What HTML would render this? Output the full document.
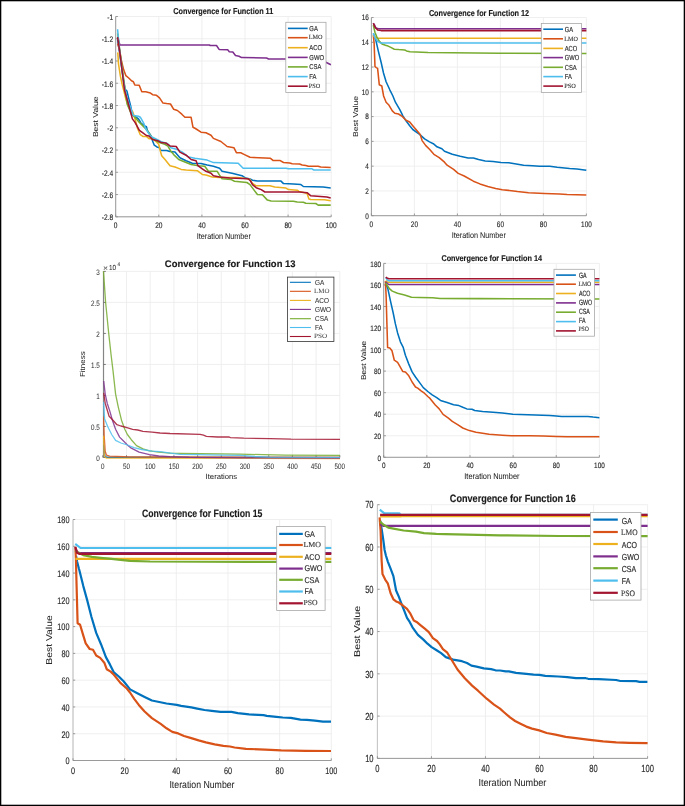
<!DOCTYPE html>
<html><head><meta charset="utf-8"><title>Convergence curves</title>
<style>
html,body{margin:0;padding:0;background:#fff;}
body{width:685px;height:806px;overflow:hidden;}
svg{display:block;filter:blur(0.28px);font-family:"Liberation Sans", sans-serif;text-rendering:geometricPrecision;}
svg text{stroke:#2a2a2a;stroke-width:0.12px;}
svg text.lb{stroke-width:0.05px;}
svg .c3 text{stroke-width:0.02px;}
svg text.tt{stroke:#1a1a1a;stroke-width:0.15px;}
</style></head><body>
<svg width="685" height="806" viewBox="0 0 685 806">
<rect x="0" y="0" width="685" height="806" fill="#fff"/>
<g class="c1"><path d="M115.70 16.50V216.80M158.80 16.50V216.80M201.90 16.50V216.80M245.00 16.50V216.80M288.10 16.50V216.80M331.20 16.50V216.80M115.70 16.50H331.20M115.70 38.76H331.20M115.70 61.01H331.20M115.70 83.27H331.20M115.70 105.52H331.20M115.70 127.78H331.20M115.70 150.03H331.20M115.70 172.29H331.20M115.70 194.54H331.20M115.70 216.80H331.20" stroke="#ebebeb" stroke-width="0.8" fill="none"/>
<path d="M115.70 16.50V216.80" stroke="#909090" stroke-width="0.9" fill="none"/>
<path d="M115.70 216.80H331.20 M115.70 216.80V214.60M158.80 216.80V214.60M201.90 216.80V214.60M245.00 216.80V214.60M288.10 216.80V214.60M331.20 216.80V214.60M115.70 16.50H117.90M115.70 38.76H117.90M115.70 61.01H117.90M115.70 83.27H117.90M115.70 105.52H117.90M115.70 127.78H117.90M115.70 150.03H117.90M115.70 172.29H117.90M115.70 194.54H117.90M115.70 216.80H117.90" stroke="#909090" stroke-width="0.9" fill="none"/>
<path d="M117.6 40.0 L119.5 52.0 L121.5 66.0 L123.5 80.0 L125.0 89.1 L126.9 91.0 L128.7 98.4 L130.6 105.8 L132.4 114.5 L135.0 116.3 L138.5 118.9 L141.2 123.3 L144.7 125.9 L146.4 126.8 L147.3 130.3 L149.0 132.9 L150.8 135.5 L152.5 140.8 L154.3 145.2 L156.9 146.9 L159.5 147.8 L160.9 150.4 L166.6 150.4 L170.0 151.5 L175.0 152.1 L179.9 157.7 L186.1 160.8 L192.3 163.2 L201.0 163.5 L207.2 165.1 L213.4 166.3 L219.6 168.2 L222.1 171.3 L232.0 173.2 L237.0 174.4 L242.0 175.7 L245.7 178.1 L250.0 179.0 L252.5 180.3 L257.4 180.9 L281.0 181.1 L283.5 183.6 L293.4 184.0 L300.9 184.6 L303.4 186.5 L323.2 187.1 L330.7 188.1" stroke="#0072BD" stroke-width="1.55" fill="none" stroke-linejoin="round" stroke-linecap="butt"/>
<path d="M117.6 43.6 L119.4 49.2 L121.3 60.3 L123.6 69.6 L125.9 75.7 L128.7 78.0 L131.5 80.8 L133.4 81.7 L134.8 85.0 L139.2 85.3 L141.8 91.8 L145.7 91.8 L150.5 93.1 L152.6 94.7 L156.5 95.3 L159.5 97.9 L163.0 103.1 L166.6 103.6 L170.5 104.0 L173.7 109.3 L177.4 110.5 L181.8 114.2 L184.9 117.3 L191.1 117.3 L193.0 127.3 L195.4 128.5 L201.0 132.2 L206.0 132.8 L211.0 135.3 L213.4 138.4 L220.9 141.5 L227.1 146.5 L233.9 147.7 L236.4 152.7 L240.7 152.7 L244.5 154.6 L250.0 157.3 L270.5 158.3 L273.0 160.4 L279.8 160.4 L283.5 162.5 L289.7 162.9 L292.2 163.8 L299.6 164.1 L302.1 165.0 L305.8 165.4 L308.3 166.2 L318.2 166.2 L320.7 167.0 L330.7 167.6" stroke="#D95319" stroke-width="1.55" fill="none" stroke-linejoin="round" stroke-linecap="butt"/>
<path d="M117.8 52.4 L118.5 64.0 L120.4 76.1 L122.2 84.5 L124.1 91.9 L125.9 99.3 L128.9 107.5 L132.8 111.9 L135.0 118.9 L137.6 128.5 L140.3 134.7 L142.9 136.4 L146.4 136.4 L149.0 138.6 L152.5 138.6 L155.2 140.8 L158.7 144.3 L160.4 151.3 L161.7 155.7 L164.8 159.2 L170.0 165.7 L175.0 167.0 L181.2 169.4 L186.1 170.1 L197.3 170.7 L202.3 174.4 L206.0 175.0 L212.2 176.9 L219.6 177.5 L237.0 177.5 L245.7 178.4 L250.0 179.6 L252.5 183.4 L256.2 185.8 L269.9 185.8 L274.8 187.1 L286.0 188.1 L288.5 189.6 L297.2 190.2 L299.0 191.4 L304.6 192.7 L307.1 193.5 L308.9 198.9 L310.8 199.5 L324.5 199.7 L330.7 200.7" stroke="#EDB120" stroke-width="1.55" fill="none" stroke-linejoin="round" stroke-linecap="butt"/>
<path d="M117.6 37.1 L119.9 44.9 L209.3 45.0 L210.3 45.5 L216.5 45.5 L219.1 49.4 L227.7 49.8 L229.3 51.7 L232.8 52.1 L235.5 55.5 L239.0 56.2 L241.6 57.6 L266.5 58.0 L268.6 59.0 L286.0 59.0 L320.0 60.0 L325.8 62.3 L330.9 64.7" stroke="#7E2F8E" stroke-width="1.55" fill="none" stroke-linejoin="round" stroke-linecap="butt"/>
<path d="M117.6 33.4 L119.5 48.0 L121.5 63.0 L123.5 78.0 L125.5 92.0 L127.1 104.0 L131.5 114.5 L135.0 117.2 L139.4 122.4 L142.9 125.9 L147.3 130.3 L151.7 137.3 L156.0 140.8 L159.5 142.6 L164.8 144.3 L167.9 146.1 L170.9 151.3 L173.7 154.6 L178.7 159.5 L184.9 162.0 L191.1 164.5 L198.5 165.7 L204.7 166.3 L208.5 171.3 L217.2 171.3 L220.3 176.3 L222.1 178.8 L230.8 179.4 L234.5 181.2 L246.9 182.5 L250.0 184.6 L253.7 189.6 L257.4 194.5 L262.4 194.8 L267.4 200.1 L271.1 201.0 L293.4 201.3 L297.2 202.0 L303.4 202.2 L305.8 203.2 L315.8 203.5 L318.2 205.1 L330.7 205.1" stroke="#77AC30" stroke-width="1.55" fill="none" stroke-linejoin="round" stroke-linecap="butt"/>
<path d="M117.6 29.2 L118.0 34.3 L119.0 45.0 L121.0 62.0 L123.0 78.0 L125.0 90.0 L127.5 100.0 L130.6 107.5 L133.3 115.4 L138.5 116.3 L140.3 117.2 L143.8 123.3 L145.5 128.5 L147.3 131.2 L150.8 136.4 L156.0 139.0 L161.3 141.7 L167.4 143.4 L170.9 147.8 L177.4 149.6 L182.4 152.1 L188.6 157.0 L194.8 158.3 L207.2 160.1 L213.4 162.6 L238.2 163.2 L243.2 168.2 L286.0 168.2 L288.5 168.8 L312.0 168.8 L313.9 170.0 L330.7 170.0" stroke="#4DBEEE" stroke-width="1.55" fill="none" stroke-linejoin="round" stroke-linecap="butt"/>
<path d="M117.6 37.1 L119.9 52.9 L122.2 71.5 L124.5 90.0 L128.9 105.8 L132.4 118.9 L135.0 122.4 L139.4 130.3 L142.9 132.9 L146.4 135.5 L149.0 136.0 L152.5 139.5 L157.8 140.8 L161.3 142.6 L165.7 143.0 L170.0 145.9 L176.2 146.5 L179.9 152.1 L186.1 155.2 L191.1 159.5 L196.1 160.8 L197.9 165.7 L202.3 168.8 L206.0 171.3 L211.0 173.2 L213.4 175.7 L219.6 176.9 L229.6 178.1 L248.2 178.8 L250.5 181.0 L252.5 184.6 L256.2 187.7 L261.2 189.6 L264.9 192.0 L299.6 192.0 L307.1 192.7 L310.8 195.8 L326.9 197.0 L330.7 198.0" stroke="#A2142F" stroke-width="1.55" fill="none" stroke-linejoin="round" stroke-linecap="butt"/>
<text transform="translate(115.70 228.16) scale(1 1.220)" text-anchor="middle" font-size="6.6" fill="#2a2a2a">0</text>
<text transform="translate(158.80 228.16) scale(1 1.220)" text-anchor="middle" font-size="6.6" fill="#2a2a2a">20</text>
<text transform="translate(201.90 228.16) scale(1 1.220)" text-anchor="middle" font-size="6.6" fill="#2a2a2a">40</text>
<text transform="translate(245.00 228.16) scale(1 1.220)" text-anchor="middle" font-size="6.6" fill="#2a2a2a">60</text>
<text transform="translate(288.10 228.16) scale(1 1.220)" text-anchor="middle" font-size="6.6" fill="#2a2a2a">80</text>
<text transform="translate(331.20 228.16) scale(1 1.220)" text-anchor="middle" font-size="6.6" fill="#2a2a2a">100</text>
<text transform="translate(113.20 19.86) scale(1 1.220)" text-anchor="end" font-size="6.6" fill="#2a2a2a">-1</text>
<text transform="translate(113.20 42.11) scale(1 1.220)" text-anchor="end" font-size="6.6" fill="#2a2a2a">-1.2</text>
<text transform="translate(113.20 64.37) scale(1 1.220)" text-anchor="end" font-size="6.6" fill="#2a2a2a">-1.4</text>
<text transform="translate(113.20 86.63) scale(1 1.220)" text-anchor="end" font-size="6.6" fill="#2a2a2a">-1.6</text>
<text transform="translate(113.20 108.88) scale(1 1.220)" text-anchor="end" font-size="6.6" fill="#2a2a2a">-1.8</text>
<text transform="translate(113.20 131.14) scale(1 1.220)" text-anchor="end" font-size="6.6" fill="#2a2a2a">-2</text>
<text transform="translate(113.20 153.39) scale(1 1.220)" text-anchor="end" font-size="6.6" fill="#2a2a2a">-2.2</text>
<text transform="translate(113.20 175.65) scale(1 1.220)" text-anchor="end" font-size="6.6" fill="#2a2a2a">-2.4</text>
<text transform="translate(113.20 197.90) scale(1 1.220)" text-anchor="end" font-size="6.6" fill="#2a2a2a">-2.6</text>
<text transform="translate(113.20 220.16) scale(1 1.220)" text-anchor="end" font-size="6.6" fill="#2a2a2a">-2.8</text>
<text class="tt" x="223.30" y="14.30" text-anchor="middle" font-size="8.6" font-weight="bold" fill="#1a1a1a" textLength="100" lengthAdjust="spacingAndGlyphs">Convergence for Function 11</text>
<text class="lb" x="223.80" y="239.40" text-anchor="middle" font-size="8.3" fill="#262626" textLength="54" lengthAdjust="spacingAndGlyphs">Iteration Number</text>
<text class="lb" transform="translate(98.40 116.80) rotate(-90)" text-anchor="middle" font-size="7.2" fill="#262626" textLength="40.6" lengthAdjust="spacingAndGlyphs">Best Value</text>
<rect x="285.80" y="22.30" width="40.20" height="70.10" fill="#fff" stroke="#a8a8a8" stroke-width="0.8"/>
<path d="M287.90 28.40H307.70" stroke="#0072BD" stroke-width="1.6"/>
<text transform="translate(309.30 31.01) scale(1 1.200)" font-size="5.9" fill="#262626">GA</text>
<path d="M287.90 37.70H307.70" stroke="#D95319" stroke-width="1.6"/>
<text x="308.80" y="39.45" font-size="6.5" fill="#3a3a3a" font-family='"Liberation Serif", serif' textLength="13.80" lengthAdjust="spacingAndGlyphs">LMO</text>
<path d="M287.90 47.70H307.70" stroke="#EDB120" stroke-width="1.6"/>
<text transform="translate(309.30 50.11) scale(1 1.200)" font-size="5.9" fill="#262626">ACO</text>
<path d="M287.90 57.40H307.70" stroke="#7E2F8E" stroke-width="1.6"/>
<text transform="translate(309.30 59.71) scale(1 1.200)" font-size="5.9" fill="#262626">GWO</text>
<path d="M287.90 66.90H307.70" stroke="#77AC30" stroke-width="1.6"/>
<text transform="translate(309.30 69.31) scale(1 1.200)" font-size="5.9" fill="#262626">CSA</text>
<path d="M287.90 76.60H307.70" stroke="#4DBEEE" stroke-width="1.6"/>
<text transform="translate(309.30 78.91) scale(1 1.200)" font-size="5.9" fill="#262626">FA</text>
<path d="M287.90 86.20H307.70" stroke="#A2142F" stroke-width="1.6"/>
<text x="308.80" y="88.44" font-size="6.5" fill="#3a3a3a" font-family='"Liberation Serif", serif' textLength="11.40" lengthAdjust="spacingAndGlyphs">PSO</text></g>
<g class="c2"><path d="M371.40 17.50V215.70M414.40 17.50V215.70M457.40 17.50V215.70M500.40 17.50V215.70M543.40 17.50V215.70M586.40 17.50V215.70M371.40 215.70H586.40M371.40 190.92H586.40M371.40 166.15H586.40M371.40 141.38H586.40M371.40 116.60H586.40M371.40 91.82H586.40M371.40 67.05H586.40M371.40 42.28H586.40M371.40 17.50H586.40" stroke="#ebebeb" stroke-width="0.8" fill="none"/>
<path d="M371.40 17.50V215.70" stroke="#909090" stroke-width="0.9" fill="none"/>
<path d="M371.40 215.70H586.40 M371.40 215.70V213.50M414.40 215.70V213.50M457.40 215.70V213.50M500.40 215.70V213.50M543.40 215.70V213.50M586.40 215.70V213.50M371.40 215.70H373.60M371.40 190.92H373.60M371.40 166.15H373.60M371.40 141.38H373.60M371.40 116.60H373.60M371.40 91.82H373.60M371.40 67.05H373.60M371.40 42.28H373.60M371.40 17.50H373.60" stroke="#909090" stroke-width="0.9" fill="none"/>
<path d="M373.3 33.4 L375.9 40.4 L378.5 51.8 L381.1 62.3 L383.5 73.0 L386.1 81.7 L389.8 89.8 L392.9 96.0 L395.4 102.2 L399.8 109.6 L402.9 115.8 L406.0 120.8 L409.7 125.7 L412.8 129.5 L419.6 134.4 L424.6 138.8 L429.5 141.9 L433.3 143.7 L437.0 146.8 L441.9 148.7 L444.5 151.3 L452.3 154.3 L460.2 156.3 L468.1 157.9 L473.4 158.0 L478.6 159.6 L485.2 160.9 L493.1 161.5 L501.0 162.5 L508.8 162.8 L516.2 163.9 L523.6 165.2 L532.3 165.7 L539.8 166.2 L549.7 166.3 L557.2 167.3 L564.6 167.9 L569.6 168.5 L577.0 168.9 L586.3 170.2" stroke="#0072BD" stroke-width="1.55" fill="none" stroke-linejoin="round" stroke-linecap="butt"/>
<path d="M373.3 35.1 L374.1 43.0 L375.0 66.7 L376.3 67.6 L377.6 68.4 L379.3 84.8 L381.8 86.0 L383.6 96.0 L386.1 102.2 L388.6 104.7 L392.3 110.9 L394.8 113.3 L398.5 114.0 L402.2 116.4 L406.0 120.2 L409.7 122.0 L413.4 126.4 L417.1 130.7 L420.2 134.4 L422.1 140.6 L425.8 145.6 L429.5 149.3 L433.9 154.3 L439.2 157.6 L444.5 162.2 L447.1 165.2 L453.6 169.4 L458.2 173.4 L464.2 176.0 L473.4 181.2 L479.9 183.9 L487.8 186.5 L495.7 188.5 L502.3 189.8 L511.5 190.7 L517.4 191.5 L528.6 192.7 L544.7 193.4 L559.6 194.0 L567.1 194.6 L586.3 195.0" stroke="#D95319" stroke-width="1.55" fill="none" stroke-linejoin="round" stroke-linecap="butt"/>
<path d="M373.3 36.0 L376.8 38.2 L586.4 38.2" stroke="#EDB120" stroke-width="1.55" fill="none" stroke-linejoin="round" stroke-linecap="butt"/>
<path d="M373.3 23.3 L374.6 25.1 L375.9 28.1 L378.5 28.8 L586.4 28.8" stroke="#7E2F8E" stroke-width="1.55" fill="none" stroke-linejoin="round" stroke-linecap="butt"/>
<path d="M373.3 25.1 L375.0 32.5 L376.8 36.9 L379.4 41.3 L382.0 43.9 L385.5 45.2 L388.1 46.1 L390.8 47.4 L394.3 49.2 L398.7 49.6 L404.8 50.0 L406.5 50.9 L410.0 51.8 L416.2 52.0 L428.0 52.5 L500.0 53.2 L586.4 53.5" stroke="#77AC30" stroke-width="1.55" fill="none" stroke-linejoin="round" stroke-linecap="butt"/>
<path d="M373.3 33.4 L375.0 37.8 L377.6 41.3 L380.3 42.9 L586.4 42.9" stroke="#4DBEEE" stroke-width="1.55" fill="none" stroke-linejoin="round" stroke-linecap="butt"/>
<path d="M373.3 23.3 L375.0 27.3 L377.6 29.9 L381.1 30.6 L586.4 30.6" stroke="#A2142F" stroke-width="1.55" fill="none" stroke-linejoin="round" stroke-linecap="butt"/>
<text transform="translate(371.40 227.14) scale(1 1.250)" text-anchor="middle" font-size="6.4" fill="#2a2a2a">0</text>
<text transform="translate(414.40 227.14) scale(1 1.250)" text-anchor="middle" font-size="6.4" fill="#2a2a2a">20</text>
<text transform="translate(457.40 227.14) scale(1 1.250)" text-anchor="middle" font-size="6.4" fill="#2a2a2a">40</text>
<text transform="translate(500.40 227.14) scale(1 1.250)" text-anchor="middle" font-size="6.4" fill="#2a2a2a">60</text>
<text transform="translate(543.40 227.14) scale(1 1.250)" text-anchor="middle" font-size="6.4" fill="#2a2a2a">80</text>
<text transform="translate(586.40 227.14) scale(1 1.250)" text-anchor="middle" font-size="6.4" fill="#2a2a2a">100</text>
<text transform="translate(368.80 218.54) scale(1 1.250)" text-anchor="end" font-size="6.4" fill="#2a2a2a">0</text>
<text transform="translate(368.80 193.76) scale(1 1.250)" text-anchor="end" font-size="6.4" fill="#2a2a2a">2</text>
<text transform="translate(368.80 168.99) scale(1 1.250)" text-anchor="end" font-size="6.4" fill="#2a2a2a">4</text>
<text transform="translate(368.80 144.22) scale(1 1.250)" text-anchor="end" font-size="6.4" fill="#2a2a2a">6</text>
<text transform="translate(368.80 119.44) scale(1 1.250)" text-anchor="end" font-size="6.4" fill="#2a2a2a">8</text>
<text transform="translate(368.80 94.66) scale(1 1.250)" text-anchor="end" font-size="6.4" fill="#2a2a2a">10</text>
<text transform="translate(368.80 69.89) scale(1 1.250)" text-anchor="end" font-size="6.4" fill="#2a2a2a">12</text>
<text transform="translate(368.80 45.12) scale(1 1.250)" text-anchor="end" font-size="6.4" fill="#2a2a2a">14</text>
<text transform="translate(368.80 20.34) scale(1 1.250)" text-anchor="end" font-size="6.4" fill="#2a2a2a">16</text>
<text class="tt" x="479.00" y="15.60" text-anchor="middle" font-size="8.6" font-weight="bold" fill="#1a1a1a" textLength="100.2" lengthAdjust="spacingAndGlyphs">Convergence for Function 12</text>
<text class="lb" x="478.80" y="237.50" text-anchor="middle" font-size="8.3" fill="#262626" textLength="54" lengthAdjust="spacingAndGlyphs">Iteration Number</text>
<text class="lb" transform="translate(358.00 116.50) rotate(-90)" text-anchor="middle" font-size="7.2" fill="#262626" textLength="41.2" lengthAdjust="spacingAndGlyphs">Best Value</text>
<rect x="541.30" y="23.40" width="40.20" height="69.00" fill="#fff" stroke="#a8a8a8" stroke-width="0.8"/>
<path d="M543.30 29.20H563.00" stroke="#0072BD" stroke-width="1.6"/>
<text transform="translate(564.70 32.37) scale(1 1.250)" font-size="5.8" fill="#262626">GA</text>
<path d="M543.30 38.80H563.00" stroke="#D95319" stroke-width="1.6"/>
<text x="564.30" y="41.15" font-size="6.5" fill="#3a3a3a" font-family='"Liberation Serif", serif' textLength="13.60" lengthAdjust="spacingAndGlyphs">LMO</text>
<path d="M543.30 48.40H563.00" stroke="#EDB120" stroke-width="1.6"/>
<text transform="translate(564.70 51.17) scale(1 1.250)" font-size="5.8" fill="#262626">ACO</text>
<path d="M543.30 57.60H563.00" stroke="#7E2F8E" stroke-width="1.6"/>
<text transform="translate(564.70 60.37) scale(1 1.250)" font-size="5.8" fill="#262626">GWO</text>
<path d="M543.30 67.30H563.00" stroke="#77AC30" stroke-width="1.6"/>
<text transform="translate(564.70 69.57) scale(1 1.250)" font-size="5.8" fill="#262626">CSA</text>
<path d="M543.30 76.60H563.00" stroke="#4DBEEE" stroke-width="1.6"/>
<text transform="translate(564.70 78.77) scale(1 1.250)" font-size="5.8" fill="#262626">FA</text>
<path d="M543.30 86.10H563.00" stroke="#A2142F" stroke-width="1.6"/>
<text x="564.30" y="87.75" font-size="6.5" fill="#3a3a3a" font-family='"Liberation Serif", serif' textLength="11.60" lengthAdjust="spacingAndGlyphs">PSO</text></g>
<g class="c3"><path d="M102.80 271.40V457.50M126.50 271.40V457.50M150.20 271.40V457.50M173.90 271.40V457.50M197.60 271.40V457.50M221.30 271.40V457.50M245.00 271.40V457.50M268.70 271.40V457.50M292.40 271.40V457.50M316.10 271.40V457.50M339.80 271.40V457.50M102.80 457.50H339.80M102.80 426.48H339.80M102.80 395.47H339.80M102.80 364.45H339.80M102.80 333.43H339.80M102.80 302.42H339.80M102.80 271.40H339.80" stroke="#ebebeb" stroke-width="0.8" fill="none"/>
<path d="M103.60 271.40V457.50" stroke="#6a6a6a" stroke-width="0.9" fill="none"/>
<path d="M103.60 457.50H339.80 M102.80 457.50V455.30M126.50 457.50V455.30M150.20 457.50V455.30M173.90 457.50V455.30M197.60 457.50V455.30M221.30 457.50V455.30M245.00 457.50V455.30M268.70 457.50V455.30M292.40 457.50V455.30M316.10 457.50V455.30M339.80 457.50V455.30M103.60 457.50H105.80M103.60 426.48H105.80M103.60 395.47H105.80M103.60 364.45H105.80M103.60 333.43H105.80M103.60 302.42H105.80M103.60 271.40H105.80" stroke="#6a6a6a" stroke-width="0.9" fill="none"/>
<path d="M103.6 445.0 L105.0 456.0 L107.0 457.2 L340.0 457.6" stroke="#0072BD" stroke-width="1.3" fill="none" stroke-linejoin="round" stroke-linecap="butt" stroke-opacity="0.85"/>
<path d="M103.6 416.5 L104.2 435.8 L105.2 451.3 L106.5 455.2 L109.7 456.1 L130.0 456.9 L160.0 457.0 L340.0 457.2" stroke="#D95319" stroke-width="1.3" fill="none" stroke-linejoin="round" stroke-linecap="butt" stroke-opacity="0.85"/>
<path d="M103.6 435.8 L103.9 448.7 L104.5 456.5 L106.5 458.2 L340.0 458.5" stroke="#EDB120" stroke-width="1.3" fill="none" stroke-linejoin="round" stroke-linecap="butt" stroke-opacity="0.85"/>
<path d="M103.7 381.1 L105.2 394.1 L107.2 403.2 L109.8 411.1 L112.4 420.2 L115.6 429.3 L119.6 437.1 L123.5 441.0 L127.4 444.9 L131.3 448.2 L139.1 452.1 L149.5 454.7 L158.7 456.0 L170.0 456.7 L189.2 457.4 L240.0 457.9 L340.0 458.0" stroke="#7E2F8E" stroke-width="1.3" fill="none" stroke-linejoin="round" stroke-linecap="butt" stroke-opacity="0.85"/>
<path d="M103.5 271.2 L105.6 302.2 L108.7 333.2 L111.1 355.0 L113.0 370.6 L115.6 394.1 L118.3 407.1 L121.5 420.2 L124.8 429.3 L127.4 434.5 L131.3 439.7 L136.5 445.6 L143.0 448.9 L149.5 450.8 L158.7 452.1 L170.0 453.1 L180.0 453.4 L240.0 454.2 L285.0 455.1 L340.0 455.3" stroke="#77AC30" stroke-width="1.3" fill="none" stroke-linejoin="round" stroke-linecap="butt" stroke-opacity="0.85"/>
<path d="M103.7 401.9 L104.6 418.9 L107.8 426.7 L111.7 434.5 L115.6 440.4 L120.9 443.0 L127.4 445.0 L133.9 447.6 L141.7 449.5 L152.1 451.1 L160.0 451.6 L168.8 452.8 L180.0 454.4 L196.5 454.7 L221.3 455.2 L240.0 455.4 L255.0 456.5 L270.0 457.2 L340.0 457.3" stroke="#4DBEEE" stroke-width="1.3" fill="none" stroke-linejoin="round" stroke-linecap="butt" stroke-opacity="0.85"/>
<path d="M103.7 392.8 L105.2 403.2 L109.1 416.3 L113.0 420.2 L116.9 424.7 L120.9 426.0 L126.1 427.4 L132.6 429.3 L137.8 430.0 L143.0 431.3 L152.1 432.2 L160.0 433.0 L170.0 433.5 L200.0 434.3 L203.5 435.2 L206.4 436.4 L217.5 437.0 L229.2 437.0 L230.4 437.6 L243.8 438.2 L270.1 438.6 L291.1 439.2 L340.0 439.4" stroke="#A2142F" stroke-width="1.3" fill="none" stroke-linejoin="round" stroke-linecap="butt" stroke-opacity="0.85"/>
<text transform="translate(102.80 469.00) scale(1 1.250)" text-anchor="middle" font-size="6.3" fill="#2a2a2a">0</text>
<text transform="translate(126.50 469.00) scale(1 1.250)" text-anchor="middle" font-size="6.3" fill="#2a2a2a">50</text>
<text transform="translate(150.20 469.00) scale(1 1.250)" text-anchor="middle" font-size="6.3" fill="#2a2a2a">100</text>
<text transform="translate(173.90 469.00) scale(1 1.250)" text-anchor="middle" font-size="6.3" fill="#2a2a2a">150</text>
<text transform="translate(197.60 469.00) scale(1 1.250)" text-anchor="middle" font-size="6.3" fill="#2a2a2a">200</text>
<text transform="translate(221.30 469.00) scale(1 1.250)" text-anchor="middle" font-size="6.3" fill="#2a2a2a">250</text>
<text transform="translate(245.00 469.00) scale(1 1.250)" text-anchor="middle" font-size="6.3" fill="#2a2a2a">300</text>
<text transform="translate(268.70 469.00) scale(1 1.250)" text-anchor="middle" font-size="6.3" fill="#2a2a2a">350</text>
<text transform="translate(292.40 469.00) scale(1 1.250)" text-anchor="middle" font-size="6.3" fill="#2a2a2a">400</text>
<text transform="translate(316.10 469.00) scale(1 1.250)" text-anchor="middle" font-size="6.3" fill="#2a2a2a">450</text>
<text transform="translate(339.80 469.00) scale(1 1.250)" text-anchor="middle" font-size="6.3" fill="#2a2a2a">500</text>
<text transform="translate(99.80 461.10) scale(1 1.250)" text-anchor="end" font-size="6.3" fill="#2a2a2a">0</text>
<text transform="translate(99.80 430.08) scale(1 1.250)" text-anchor="end" font-size="6.3" fill="#2a2a2a">0.5</text>
<text transform="translate(99.80 399.06) scale(1 1.250)" text-anchor="end" font-size="6.3" fill="#2a2a2a">1</text>
<text transform="translate(99.80 368.05) scale(1 1.250)" text-anchor="end" font-size="6.3" fill="#2a2a2a">1.5</text>
<text transform="translate(99.80 337.03) scale(1 1.250)" text-anchor="end" font-size="6.3" fill="#2a2a2a">2</text>
<text transform="translate(99.80 306.01) scale(1 1.250)" text-anchor="end" font-size="6.3" fill="#2a2a2a">2.5</text>
<text transform="translate(99.80 275.00) scale(1 1.250)" text-anchor="end" font-size="6.3" fill="#2a2a2a">3</text>
<text class="tt" x="230.20" y="267.00" text-anchor="middle" font-size="9.6" font-weight="bold" fill="#1a1a1a" textLength="130.7" lengthAdjust="spacingAndGlyphs">Convergence for Function 13</text>
<text class="lb" x="221.40" y="479.30" text-anchor="middle" font-size="7.6" fill="#262626" textLength="31.6" lengthAdjust="spacingAndGlyphs">Iterations</text>
<text class="lb" transform="translate(85.30 364.20) rotate(-90)" text-anchor="middle" font-size="7.2" fill="#262626" textLength="25.8" lengthAdjust="spacingAndGlyphs">Fitness</text>
<rect x="287.50" y="277.10" width="46.40" height="64.40" fill="#fff" stroke="#333333" stroke-width="0.8"/>
<path d="M289.90 282.30H310.90" stroke="#0072BD" stroke-width="1.1"/>
<text transform="translate(315.00 285.16) scale(1 1.120)" font-size="6.45" fill="#262626">GA</text>
<path d="M289.90 291.30H310.90" stroke="#D95319" stroke-width="1.1"/>
<text x="314.00" y="293.08" font-size="6.6" fill="#3a3a3a" font-family='"Liberation Serif", serif' textLength="15.40" lengthAdjust="spacingAndGlyphs">LMO</text>
<path d="M289.90 300.40H310.90" stroke="#EDB120" stroke-width="1.1"/>
<text transform="translate(315.00 303.06) scale(1 1.120)" font-size="6.45" fill="#262626">ACO</text>
<path d="M289.90 309.40H310.90" stroke="#7E2F8E" stroke-width="1.1"/>
<text transform="translate(315.00 311.96) scale(1 1.120)" font-size="6.45" fill="#262626">GWO</text>
<path d="M289.90 318.70H310.90" stroke="#77AC30" stroke-width="1.1"/>
<text transform="translate(315.00 321.16) scale(1 1.120)" font-size="6.45" fill="#262626">CSA</text>
<path d="M289.90 327.50H310.90" stroke="#4DBEEE" stroke-width="1.1"/>
<text transform="translate(315.00 330.06) scale(1 1.120)" font-size="6.45" fill="#262626">FA</text>
<path d="M289.90 336.50H310.90" stroke="#A2142F" stroke-width="1.1"/>
<text x="314.00" y="338.48" font-size="6.6" fill="#3a3a3a" font-family='"Liberation Serif", serif' textLength="13.20" lengthAdjust="spacingAndGlyphs">PSO</text></g>
<g class="c4"><path d="M383.70 263.40V457.30M426.84 263.40V457.30M469.98 263.40V457.30M513.12 263.40V457.30M556.26 263.40V457.30M599.40 263.40V457.30M383.70 457.30H599.40M383.70 435.76H599.40M383.70 414.21H599.40M383.70 392.67H599.40M383.70 371.12H599.40M383.70 349.58H599.40M383.70 328.03H599.40M383.70 306.49H599.40M383.70 284.94H599.40M383.70 263.40H599.40" stroke="#ebebeb" stroke-width="0.8" fill="none"/>
<path d="M383.70 263.40V457.30" stroke="#909090" stroke-width="0.9" fill="none"/>
<path d="M383.70 457.30H599.40 M383.70 457.30V455.10M426.84 457.30V455.10M469.98 457.30V455.10M513.12 457.30V455.10M556.26 457.30V455.10M599.40 457.30V455.10M383.70 457.30H385.90M383.70 435.76H385.90M383.70 414.21H385.90M383.70 392.67H385.90M383.70 371.12H385.90M383.70 349.58H385.90M383.70 328.03H385.90M383.70 306.49H385.90M383.70 284.94H385.90M383.70 263.40H385.90" stroke="#909090" stroke-width="0.9" fill="none"/>
<path d="M385.7 283.2 L387.9 288.9 L390.5 301.2 L393.2 313.0 L395.4 323.9 L397.6 332.9 L400.4 341.8 L403.2 347.4 L405.4 355.2 L408.8 364.1 L412.1 371.9 L415.5 377.0 L420.0 383.1 L423.3 387.6 L427.8 391.5 L432.2 394.8 L436.7 397.6 L440.5 400.4 L447.1 402.6 L453.6 404.7 L458.9 405.6 L462.8 407.3 L466.8 408.9 L472.0 409.2 L474.7 410.5 L482.6 411.5 L493.1 412.2 L502.3 413.1 L512.8 414.2 L520.0 414.4 L535.3 415.1 L549.7 415.5 L556.3 416.0 L561.5 416.4 L587.8 416.4 L593.1 417.1 L599.4 417.7" stroke="#0072BD" stroke-width="1.55" fill="none" stroke-linejoin="round" stroke-linecap="butt"/>
<path d="M385.4 281.0 L386.1 295.0 L386.8 320.0 L387.6 347.4 L389.8 347.9 L392.0 350.7 L394.3 360.2 L397.6 362.4 L399.9 366.4 L402.7 371.4 L405.4 371.9 L408.8 375.8 L412.1 382.0 L415.5 387.0 L417.7 388.1 L421.1 390.9 L424.4 393.2 L427.8 396.5 L430.0 398.4 L435.3 405.0 L439.2 408.9 L443.1 414.4 L448.4 418.1 L452.3 421.4 L457.6 424.7 L462.8 428.0 L469.4 430.6 L476.0 432.3 L482.6 433.2 L489.1 434.3 L502.3 435.2 L511.5 435.8 L530.0 435.8 L543.1 436.1 L556.3 436.4 L566.8 436.8 L599.4 436.8" stroke="#D95319" stroke-width="1.55" fill="none" stroke-linejoin="round" stroke-linecap="butt"/>
<path d="M385.7 280.6 L387.4 282.1 L599.4 282.3" stroke="#EDB120" stroke-width="1.55" fill="none" stroke-linejoin="round" stroke-linecap="butt"/>
<path d="M385.7 281.9 L387.4 283.6 L388.8 284.4 L599.4 284.4" stroke="#7E2F8E" stroke-width="1.55" fill="none" stroke-linejoin="round" stroke-linecap="butt"/>
<path d="M385.7 282.8 L387.9 286.3 L389.6 288.9 L392.3 291.1 L397.5 293.3 L404.5 295.0 L411.5 297.2 L419.4 297.5 L432.6 297.8 L440.0 298.4 L480.0 298.6 L599.4 299.0" stroke="#77AC30" stroke-width="1.55" fill="none" stroke-linejoin="round" stroke-linecap="butt"/>
<path d="M385.7 277.5 L387.4 280.0 L388.8 280.8 L599.4 280.8" stroke="#4DBEEE" stroke-width="1.55" fill="none" stroke-linejoin="round" stroke-linecap="butt"/>
<path d="M385.7 277.1 L387.0 278.0 L388.8 278.8 L599.4 278.8" stroke="#A2142F" stroke-width="1.55" fill="none" stroke-linejoin="round" stroke-linecap="butt"/>
<text transform="translate(383.70 468.07) scale(1 1.220)" text-anchor="middle" font-size="6.4" fill="#2a2a2a">0</text>
<text transform="translate(426.84 468.07) scale(1 1.220)" text-anchor="middle" font-size="6.4" fill="#2a2a2a">20</text>
<text transform="translate(469.98 468.07) scale(1 1.220)" text-anchor="middle" font-size="6.4" fill="#2a2a2a">40</text>
<text transform="translate(513.12 468.07) scale(1 1.220)" text-anchor="middle" font-size="6.4" fill="#2a2a2a">60</text>
<text transform="translate(556.26 468.07) scale(1 1.220)" text-anchor="middle" font-size="6.4" fill="#2a2a2a">80</text>
<text transform="translate(599.40 468.07) scale(1 1.220)" text-anchor="middle" font-size="6.4" fill="#2a2a2a">100</text>
<text transform="translate(381.00 460.57) scale(1 1.220)" text-anchor="end" font-size="6.4" fill="#2a2a2a">0</text>
<text transform="translate(381.00 439.03) scale(1 1.220)" text-anchor="end" font-size="6.4" fill="#2a2a2a">20</text>
<text transform="translate(381.00 417.48) scale(1 1.220)" text-anchor="end" font-size="6.4" fill="#2a2a2a">40</text>
<text transform="translate(381.00 395.94) scale(1 1.220)" text-anchor="end" font-size="6.4" fill="#2a2a2a">60</text>
<text transform="translate(381.00 374.39) scale(1 1.220)" text-anchor="end" font-size="6.4" fill="#2a2a2a">80</text>
<text transform="translate(381.00 352.85) scale(1 1.220)" text-anchor="end" font-size="6.4" fill="#2a2a2a">100</text>
<text transform="translate(381.00 331.31) scale(1 1.220)" text-anchor="end" font-size="6.4" fill="#2a2a2a">120</text>
<text transform="translate(381.00 309.76) scale(1 1.220)" text-anchor="end" font-size="6.4" fill="#2a2a2a">140</text>
<text transform="translate(381.00 288.22) scale(1 1.220)" text-anchor="end" font-size="6.4" fill="#2a2a2a">160</text>
<text transform="translate(381.00 266.67) scale(1 1.220)" text-anchor="end" font-size="6.4" fill="#2a2a2a">180</text>
<text class="tt" x="491.70" y="261.40" text-anchor="middle" font-size="8.4" font-weight="bold" fill="#1a1a1a" textLength="100.6" lengthAdjust="spacingAndGlyphs">Convergence for Function 14</text>
<text class="lb" x="491.90" y="479.00" text-anchor="middle" font-size="8.3" fill="#262626" textLength="55.2" lengthAdjust="spacingAndGlyphs">Iteration Number</text>
<text class="lb" transform="translate(366.40 360.40) rotate(-90)" text-anchor="middle" font-size="7.2" fill="#262626" textLength="39.2" lengthAdjust="spacingAndGlyphs">Best Value</text>
<rect x="554.00" y="269.30" width="40.50" height="66.90" fill="#fff" stroke="#a8a8a8" stroke-width="0.8"/>
<path d="M556.00 275.10H575.90" stroke="#0072BD" stroke-width="1.6"/>
<text transform="translate(579.00 278.43) scale(1 1.450)" font-size="5.3" fill="#262626">GA</text>
<path d="M556.00 284.20H575.90" stroke="#D95319" stroke-width="1.6"/>
<text x="578.40" y="285.88" font-size="6.6" fill="#3a3a3a" font-family='"Liberation Serif", serif' textLength="12.90" lengthAdjust="spacingAndGlyphs">LMO</text>
<path d="M556.00 293.50H575.90" stroke="#EDB120" stroke-width="1.6"/>
<text transform="translate(579.00 296.23) scale(1 1.450)" font-size="5.3" fill="#262626">ACO</text>
<path d="M556.00 302.90H575.90" stroke="#7E2F8E" stroke-width="1.6"/>
<text transform="translate(579.00 305.23) scale(1 1.450)" font-size="5.3" fill="#262626">GWO</text>
<path d="M556.00 312.20H575.90" stroke="#77AC30" stroke-width="1.6"/>
<text transform="translate(579.00 314.03) scale(1 1.450)" font-size="5.3" fill="#262626">CSA</text>
<path d="M556.00 321.60H575.90" stroke="#4DBEEE" stroke-width="1.6"/>
<text transform="translate(579.00 322.73) scale(1 1.450)" font-size="5.3" fill="#262626">FA</text>
<path d="M556.00 330.90H575.90" stroke="#A2142F" stroke-width="1.6"/>
<text x="578.40" y="331.08" font-size="6.6" fill="#3a3a3a" font-family='"Liberation Serif", serif' textLength="10.60" lengthAdjust="spacingAndGlyphs">PSO</text></g>
<g class="c5"><path d="M73.00 519.50V760.50M124.66 519.50V760.50M176.32 519.50V760.50M227.98 519.50V760.50M279.64 519.50V760.50M331.30 519.50V760.50M73.00 760.50H331.30M73.00 733.72H331.30M73.00 706.94H331.30M73.00 680.17H331.30M73.00 653.39H331.30M73.00 626.61H331.30M73.00 599.83H331.30M73.00 573.06H331.30M73.00 546.28H331.30M73.00 519.50H331.30" stroke="#ebebeb" stroke-width="0.8" fill="none"/>
<path d="M73.00 519.50V760.50" stroke="#b4b4b4" stroke-width="0.9" fill="none"/>
<path d="M73.00 760.50H331.30 M73.00 760.50V758.30M124.66 760.50V758.30M176.32 760.50V758.30M227.98 760.50V758.30M279.64 760.50V758.30M331.30 760.50V758.30M73.00 760.50H75.20M73.00 733.72H75.20M73.00 706.94H75.20M73.00 680.17H75.20M73.00 653.39H75.20M73.00 626.61H75.20M73.00 599.83H75.20M73.00 573.06H75.20M73.00 546.28H75.20M73.00 519.50H75.20" stroke="#909090" stroke-width="0.9" fill="none"/>
<path d="M76.1 556.0 L77.0 561.3 L78.8 568.3 L79.3 570.0 L83.3 586.1 L87.3 600.6 L91.4 616.8 L96.2 632.9 L101.0 644.2 L105.9 657.1 L109.9 664.4 L113.9 672.4 L118.8 676.5 L123.6 681.3 L130.1 689.4 L137.3 693.2 L144.6 696.9 L151.9 700.5 L159.2 702.0 L166.5 703.5 L176.7 704.9 L181.1 705.9 L191.3 707.4 L197.2 708.6 L204.5 710.0 L211.8 710.8 L220.5 711.8 L231.4 711.9 L237.8 713.1 L249.1 714.3 L263.5 715.2 L266.8 715.9 L276.4 716.8 L282.8 717.5 L290.8 717.8 L300.5 719.6 L306.9 719.9 L314.9 720.7 L323.0 721.7 L331.0 721.7" stroke="#0072BD" stroke-width="2.2" fill="none" stroke-linejoin="round" stroke-linecap="butt"/>
<path d="M75.4 547.3 L76.0 561.3 L76.3 575.0 L77.6 623.2 L80.1 624.8 L82.5 632.9 L85.7 643.4 L89.7 649.0 L93.0 649.8 L96.2 655.5 L100.2 657.9 L104.3 662.7 L106.7 669.2 L110.7 671.6 L113.9 674.8 L120.4 682.9 L126.8 688.5 L130.0 692.5 L134.4 699.1 L138.8 704.9 L144.6 711.5 L151.9 718.1 L160.7 723.9 L166.5 728.3 L172.3 731.9 L178.2 733.4 L184.0 736.0 L191.3 738.1 L198.6 740.4 L205.9 742.4 L214.7 744.3 L223.4 745.8 L230.0 746.5 L234.6 747.5 L245.9 748.8 L265.1 749.6 L281.2 750.4 L305.3 750.9 L331.0 751.0" stroke="#D95319" stroke-width="2.2" fill="none" stroke-linejoin="round" stroke-linecap="butt"/>
<path d="M75.3 558.8 L331.3 558.8" stroke="#EDB120" stroke-width="2.2" fill="none" stroke-linejoin="round" stroke-linecap="butt"/>
<path d="M75.7 549.0 L77.4 552.2 L79.6 553.0 L331.3 553.0" stroke="#7E2F8E" stroke-width="2.2" fill="none" stroke-linejoin="round" stroke-linecap="butt"/>
<path d="M75.3 550.3 L77.9 552.5 L83.1 555.1 L91.9 556.9 L100.7 557.8 L109.4 558.6 L118.2 559.7 L130.0 560.8 L150.0 561.5 L250.0 561.8 L331.3 561.8" stroke="#77AC30" stroke-width="2.2" fill="none" stroke-linejoin="round" stroke-linecap="butt"/>
<path d="M75.3 545.1 L76.1 544.5 L80.5 548.0 L331.3 548.0" stroke="#4DBEEE" stroke-width="2.2" fill="none" stroke-linejoin="round" stroke-linecap="butt"/>
<path d="M75.3 546.8 L77.0 552.7 L79.6 553.9 L331.3 553.9" stroke="#A2142F" stroke-width="2.2" fill="none" stroke-linejoin="round" stroke-linecap="butt"/>
<text transform="translate(73.00 773.87) scale(1 1.300)" text-anchor="middle" font-size="7.3" fill="#2a2a2a">0</text>
<text transform="translate(124.66 773.87) scale(1 1.300)" text-anchor="middle" font-size="7.3" fill="#2a2a2a">20</text>
<text transform="translate(176.32 773.87) scale(1 1.300)" text-anchor="middle" font-size="7.3" fill="#2a2a2a">40</text>
<text transform="translate(227.98 773.87) scale(1 1.300)" text-anchor="middle" font-size="7.3" fill="#2a2a2a">60</text>
<text transform="translate(279.64 773.87) scale(1 1.300)" text-anchor="middle" font-size="7.3" fill="#2a2a2a">80</text>
<text transform="translate(331.30 773.87) scale(1 1.300)" text-anchor="middle" font-size="7.3" fill="#2a2a2a">100</text>
<text transform="translate(69.50 764.37) scale(1 1.300)" text-anchor="end" font-size="7.3" fill="#2a2a2a">0</text>
<text transform="translate(69.50 737.59) scale(1 1.300)" text-anchor="end" font-size="7.3" fill="#2a2a2a">20</text>
<text transform="translate(69.50 710.81) scale(1 1.300)" text-anchor="end" font-size="7.3" fill="#2a2a2a">40</text>
<text transform="translate(69.50 684.04) scale(1 1.300)" text-anchor="end" font-size="7.3" fill="#2a2a2a">60</text>
<text transform="translate(69.50 657.26) scale(1 1.300)" text-anchor="end" font-size="7.3" fill="#2a2a2a">80</text>
<text transform="translate(69.50 630.48) scale(1 1.300)" text-anchor="end" font-size="7.3" fill="#2a2a2a">100</text>
<text transform="translate(69.50 603.70) scale(1 1.300)" text-anchor="end" font-size="7.3" fill="#2a2a2a">120</text>
<text transform="translate(69.50 576.92) scale(1 1.300)" text-anchor="end" font-size="7.3" fill="#2a2a2a">140</text>
<text transform="translate(69.50 550.15) scale(1 1.300)" text-anchor="end" font-size="7.3" fill="#2a2a2a">160</text>
<text transform="translate(69.50 523.37) scale(1 1.300)" text-anchor="end" font-size="7.3" fill="#2a2a2a">180</text>
<text class="tt" x="202.20" y="517.10" text-anchor="middle" font-size="10.7" font-weight="bold" fill="#1a1a1a" textLength="120.5" lengthAdjust="spacingAndGlyphs">Convergence for Function 15</text>
<text class="lb" x="202.00" y="787.80" text-anchor="middle" font-size="10.1" fill="#262626" textLength="65.1" lengthAdjust="spacingAndGlyphs">Iteration Number</text>
<text class="lb" transform="translate(52.20 640.00) rotate(-90)" text-anchor="middle" font-size="8.6" fill="#262626" textLength="49.3" lengthAdjust="spacingAndGlyphs">Best Value</text>
<rect x="276.70" y="526.40" width="48.40" height="84.10" fill="#fff" stroke="#a8a8a8" stroke-width="0.8"/>
<path d="M279.20 533.90H302.80" stroke="#0072BD" stroke-width="2.2"/>
<text transform="translate(304.40 537.29) scale(1 1.170)" font-size="7.2" fill="#262626">GA</text>
<path d="M279.20 545.00H302.80" stroke="#D95319" stroke-width="2.2"/>
<text x="303.40" y="547.24" font-size="7.7" fill="#3a3a3a" font-family='"Liberation Serif", serif' textLength="17.50" lengthAdjust="spacingAndGlyphs">LMO</text>
<path d="M279.20 556.80H302.80" stroke="#EDB120" stroke-width="2.2"/>
<text transform="translate(304.40 559.89) scale(1 1.170)" font-size="7.2" fill="#262626">ACO</text>
<path d="M279.20 568.60H302.80" stroke="#7E2F8E" stroke-width="2.2"/>
<text transform="translate(304.40 571.49) scale(1 1.170)" font-size="7.2" fill="#262626">GWO</text>
<path d="M279.20 579.80H302.80" stroke="#77AC30" stroke-width="2.2"/>
<text transform="translate(304.40 582.79) scale(1 1.170)" font-size="7.2" fill="#262626">CSA</text>
<path d="M279.20 591.50H302.80" stroke="#4DBEEE" stroke-width="2.2"/>
<text transform="translate(304.40 594.49) scale(1 1.170)" font-size="7.2" fill="#262626">FA</text>
<path d="M279.20 603.30H302.80" stroke="#A2142F" stroke-width="2.2"/>
<text x="303.40" y="604.84" font-size="7.7" fill="#3a3a3a" font-family='"Liberation Serif", serif' textLength="14.10" lengthAdjust="spacingAndGlyphs">PSO</text></g>
<g class="c6"><path d="M377.40 504.70V758.40M431.44 504.70V758.40M485.48 504.70V758.40M539.52 504.70V758.40M593.56 504.70V758.40M647.60 504.70V758.40M377.40 758.40H647.60M377.40 716.12H647.60M377.40 673.83H647.60M377.40 631.55H647.60M377.40 589.27H647.60M377.40 546.98H647.60M377.40 504.70H647.60" stroke="#ebebeb" stroke-width="0.8" fill="none"/>
<path d="M377.40 504.70V758.40" stroke="#bdbdbd" stroke-width="0.9" fill="none"/>
<path d="M377.40 758.40H647.60 M377.40 758.40V756.20M431.44 758.40V756.20M485.48 758.40V756.20M539.52 758.40V756.20M593.56 758.40V756.20M647.60 758.40V756.20M377.40 758.40H379.60M377.40 716.12H379.60M377.40 673.83H379.60M377.40 631.55H379.60M377.40 589.27H379.60M377.40 546.98H379.60M377.40 504.70H379.60" stroke="#909090" stroke-width="0.9" fill="none"/>
<path d="M380.1 520.4 L381.8 530.0 L383.3 540.0 L384.6 550.0 L385.9 555.5 L387.9 561.8 L390.6 568.6 L393.4 576.1 L396.1 590.5 L398.8 596.6 L401.6 604.1 L404.3 610.9 L407.0 617.8 L409.7 621.9 L412.5 627.3 L417.9 634.8 L423.4 639.6 L427.5 643.7 L431.6 647.1 L437.0 650.5 L441.1 653.2 L445.8 657.1 L453.1 659.6 L461.9 661.2 L467.0 663.0 L471.4 665.6 L476.5 666.6 L483.8 668.4 L491.1 669.1 L495.5 670.3 L500.0 670.5 L505.7 671.3 L508.8 671.4 L516.1 672.8 L526.3 673.9 L533.6 674.6 L539.4 674.9 L545.3 675.8 L558.4 676.5 L567.2 677.2 L575.9 678.2 L585.8 678.2 L588.2 678.8 L598.7 679.2 L616.2 680.0 L620.3 681.0 L636.1 681.2 L639.6 681.8 L647.4 681.9" stroke="#0072BD" stroke-width="2.2" fill="none" stroke-linejoin="round" stroke-linecap="butt"/>
<path d="M379.6 517.4 L380.6 530.7 L381.6 560.0 L382.5 574.1 L385.2 579.6 L387.9 583.7 L390.6 593.2 L393.4 599.3 L396.1 601.4 L398.8 602.5 L402.9 605.5 L407.0 608.9 L410.4 613.7 L413.8 620.5 L416.6 621.9 L420.7 625.3 L424.8 628.7 L428.8 632.1 L432.9 638.2 L437.0 641.0 L439.8 644.4 L442.9 649.1 L447.3 652.7 L451.7 660.0 L457.5 669.5 L464.8 678.3 L472.1 685.6 L478.0 690.7 L486.7 698.7 L494.0 704.6 L500.0 708.6 L504.0 712.2 L510.0 717.4 L515.1 721.0 L521.0 724.0 L526.3 726.6 L532.0 728.6 L539.2 730.4 L546.7 733.0 L555.5 734.7 L565.7 736.9 L575.9 738.1 L587.6 739.6 L603.1 741.4 L616.3 742.3 L629.4 742.8 L647.6 743.1" stroke="#D95319" stroke-width="2.2" fill="none" stroke-linejoin="round" stroke-linecap="butt"/>
<path d="M380.1 516.5 L400.5 516.5 L401.5 516.2 L647.6 516.2" stroke="#EDB120" stroke-width="2.2" fill="none" stroke-linejoin="round" stroke-linecap="butt"/>
<path d="M380.1 524.5 L383.2 525.8 L647.6 525.8" stroke="#7E2F8E" stroke-width="2.2" fill="none" stroke-linejoin="round" stroke-linecap="butt"/>
<path d="M380.1 521.5 L383.2 524.5 L388.3 527.6 L393.4 528.6 L403.6 530.5 L415.9 531.7 L424.0 533.2 L436.3 533.9 L445.0 534.2 L500.0 535.3 L560.0 536.0 L647.6 536.2" stroke="#77AC30" stroke-width="2.2" fill="none" stroke-linejoin="round" stroke-linecap="butt"/>
<path d="M379.8 509.7 L382.2 511.6 L384.5 513.3 L399.4 513.3 L400.4 514.8 L647.6 514.8" stroke="#4DBEEE" stroke-width="2.2" fill="none" stroke-linejoin="round" stroke-linecap="butt"/>
<path d="M380.1 514.8 L647.6 514.8" stroke="#A2142F" stroke-width="2.2" fill="none" stroke-linejoin="round" stroke-linecap="butt"/>
<text transform="translate(377.40 772.44) scale(1 1.350)" text-anchor="middle" font-size="7.6" fill="#2a2a2a">0</text>
<text transform="translate(431.44 772.44) scale(1 1.350)" text-anchor="middle" font-size="7.6" fill="#2a2a2a">20</text>
<text transform="translate(485.48 772.44) scale(1 1.350)" text-anchor="middle" font-size="7.6" fill="#2a2a2a">40</text>
<text transform="translate(539.52 772.44) scale(1 1.350)" text-anchor="middle" font-size="7.6" fill="#2a2a2a">60</text>
<text transform="translate(593.56 772.44) scale(1 1.350)" text-anchor="middle" font-size="7.6" fill="#2a2a2a">80</text>
<text transform="translate(647.60 772.44) scale(1 1.350)" text-anchor="middle" font-size="7.6" fill="#2a2a2a">100</text>
<text transform="translate(373.60 762.14) scale(1 1.350)" text-anchor="end" font-size="7.6" fill="#2a2a2a">10</text>
<text transform="translate(373.60 719.86) scale(1 1.350)" text-anchor="end" font-size="7.6" fill="#2a2a2a">20</text>
<text transform="translate(373.60 677.58) scale(1 1.350)" text-anchor="end" font-size="7.6" fill="#2a2a2a">30</text>
<text transform="translate(373.60 635.29) scale(1 1.350)" text-anchor="end" font-size="7.6" fill="#2a2a2a">40</text>
<text transform="translate(373.60 593.01) scale(1 1.350)" text-anchor="end" font-size="7.6" fill="#2a2a2a">50</text>
<text transform="translate(373.60 550.73) scale(1 1.350)" text-anchor="end" font-size="7.6" fill="#2a2a2a">60</text>
<text transform="translate(373.60 508.44) scale(1 1.350)" text-anchor="end" font-size="7.6" fill="#2a2a2a">70</text>
<text class="tt" x="512.80" y="502.00" text-anchor="middle" font-size="10.6" font-weight="bold" fill="#1a1a1a" textLength="125.9" lengthAdjust="spacingAndGlyphs">Convergence for Function 16</text>
<text class="lb" x="512.40" y="786.20" text-anchor="middle" font-size="10.2" fill="#262626" textLength="67.9" lengthAdjust="spacingAndGlyphs">Iteration Number</text>
<text class="lb" transform="translate(360.00 631.30) rotate(-90)" text-anchor="middle" font-size="8.6" fill="#262626" textLength="51.3" lengthAdjust="spacingAndGlyphs">Best Value</text>
<rect x="590.50" y="512.40" width="50.50" height="87.70" fill="#fff" stroke="#a8a8a8" stroke-width="0.8"/>
<path d="M593.30 519.60H617.80" stroke="#0072BD" stroke-width="2.2"/>
<text transform="translate(621.80 523.98) scale(1 1.240)" font-size="7.0" fill="#262626">GA</text>
<path d="M593.30 532.00H617.80" stroke="#D95319" stroke-width="2.2"/>
<text x="621.00" y="534.91" font-size="8.2" fill="#3a3a3a" font-family='"Liberation Serif", serif' textLength="16.60" lengthAdjust="spacingAndGlyphs">LMO</text>
<path d="M593.30 544.00H617.80" stroke="#EDB120" stroke-width="2.2"/>
<text transform="translate(621.80 548.08) scale(1 1.240)" font-size="7.0" fill="#262626">ACO</text>
<path d="M593.30 556.40H617.80" stroke="#7E2F8E" stroke-width="2.2"/>
<text transform="translate(621.80 560.08) scale(1 1.240)" font-size="7.0" fill="#262626">GWO</text>
<path d="M593.30 568.20H617.80" stroke="#77AC30" stroke-width="2.2"/>
<text transform="translate(621.80 571.88) scale(1 1.240)" font-size="7.0" fill="#262626">CSA</text>
<path d="M593.30 580.60H617.80" stroke="#4DBEEE" stroke-width="2.2"/>
<text transform="translate(621.80 584.08) scale(1 1.240)" font-size="7.0" fill="#262626">FA</text>
<path d="M593.30 592.80H617.80" stroke="#A2142F" stroke-width="2.2"/>
<text x="621.00" y="595.61" font-size="8.2" fill="#3a3a3a" font-family='"Liberation Serif", serif' textLength="14.00" lengthAdjust="spacingAndGlyphs">PSO</text></g><g class="c3"><text x="103.1" y="271.0" font-size="8.6" fill="#555">×</text><text transform="translate(109.0 269.8) scale(1 1.15)" font-size="6.4" fill="#2a2a2a">10</text><text transform="translate(117.6 265.7) scale(1 1.15)" font-size="4.6" fill="#2a2a2a">4</text></g>
<rect x="0.6" y="0.6" width="683.8" height="804.8" fill="none" stroke="#000" stroke-width="1.4"/>
</svg>
</body></html>
